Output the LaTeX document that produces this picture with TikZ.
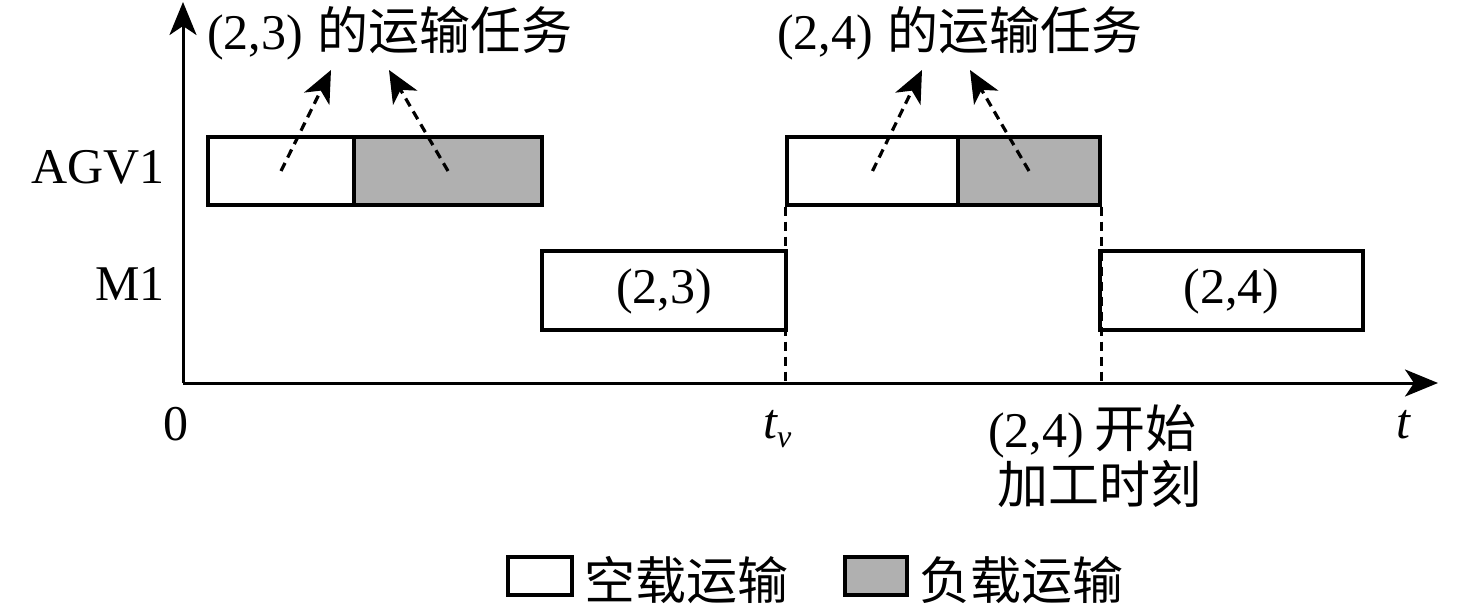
\documentclass[tikz,border=0pt]{standalone}
\usepackage{fontspec}
\setmainfont{Liberation Serif}
\newfontfamily\cjk{Noto Sans CJK SC}
\usetikzlibrary{arrows.meta}
\newcommand\zh[1]{{\cjk\fontsize{51}{60}\selectfont #1}}
\definecolor{loadgray}{HTML}{B0B0B0}
\tikzset{
  lbl/.style={inner sep=0pt, font=\fontsize{50}{60}\selectfont},
  wbox/.style={draw=black, line width=3.4pt, fill=white, inner sep=0pt},
  gbox/.style={wbox, fill=loadgray},
  axisline/.style={line width=3pt, -{Stealth[length=33pt,width=27pt,inset=9pt]}},
  taskarrow/.style={line width=3.2pt, dash pattern=on 9pt off 6pt, -{Stealth[length=32pt,width=28pt,inset=9pt]}},
  guide/.style={line width=2.6pt, dash pattern=on 9pt off 6pt}
}
\begin{document}
\begin{tikzpicture}[x=1pt,y=-1pt]
\useasboundingbox (0,0) rectangle (1476,610);
% axes
\coordinate (O) at (183,383);
\coordinate (ytip) at (183,2);
\coordinate (xtip) at (1438,383);
\draw[axisline] (O) -- (ytip);
\draw[axisline] (O) -- (xtip);
% AGV1 row
\node[wbox, minimum width=146pt, minimum height=68pt] (e1) at (281,171) {};
\node[gbox, minimum width=188pt, minimum height=68pt] (l1) at (448,171) {};
\node[wbox, minimum width=171pt, minimum height=68pt] (e2) at (872.5,171) {};
\node[gbox, minimum width=142pt, minimum height=68pt] (l2) at (1029,171) {};
% M1 row
\node[wbox, minimum width=244pt, minimum height=79pt] (m1) at (664,290.5) {};
\node[wbox, minimum width=263pt, minimum height=79pt] (m2) at (1231.5,290.5) {};
\node[lbl, anchor=base] (m1t) at (m1.center |- 0,303) {(2,3)};
\node[lbl, anchor=base] (m2t) at (m2.center |- 0,303) {(2,4)};
% guides
\draw[guide] (e2.south west) -- (e2.south west |- O);
\draw[guide] (l2.south east) -- (l2.south east |- O);
% row labels
\node[lbl, anchor=base east] (agv) at (165,183) {AGV1};
\node[lbl, anchor=base east] (mach) at (165,300) {M1};
% top labels
\node[lbl, anchor=base west] (task1) at (207,50) {(2,3)\hspace{14pt}\zh{的运输任务}};
\node[lbl, anchor=base west] (task2) at (777,50) {(2,4)\hspace{14pt}\zh{的运输任务}};
% task arrows
\coordinate (t1a) at (331,70);
\coordinate (t1b) at (389,70);
\coordinate (t2a) at (922,70);
\coordinate (t2b) at (970,70);
\draw[taskarrow] (e1.center) -- (t1a);
\draw[taskarrow] (l1.center) -- (t1b);
\draw[taskarrow] (e2.center) -- (t2a);
\draw[taskarrow] (l2.center) -- (t2b);
% axis labels
\node[lbl, anchor=base] (zero) at (176,440) {0};
\node[lbl, anchor=base west] (tv) at (763,438) {\itshape t\raisebox{-9pt}{\fontsize{32}{32}\selectfont v}};
\node[lbl, anchor=base west] (tlab) at (1396,438) {\itshape t};
\node[lbl, anchor=base west] (start1) at (988,447) {(2,4)\hspace{10pt}\zh{开始}};
\node[lbl, anchor=base west] (start2) at (997,503) {\zh{加工时刻}};
% legend
\node[wbox, minimum width=64pt, minimum height=38pt] (legw) at (540,576) {};
\node[lbl, anchor=base west] (legwt) at (584,599) {\zh{空载运输}};
\node[gbox, minimum width=62pt, minimum height=38pt] (legg) at (876,576) {};
\node[lbl, anchor=base west] (leggt) at (919,599) {\zh{负载运输}};
\end{tikzpicture}
\end{document}
